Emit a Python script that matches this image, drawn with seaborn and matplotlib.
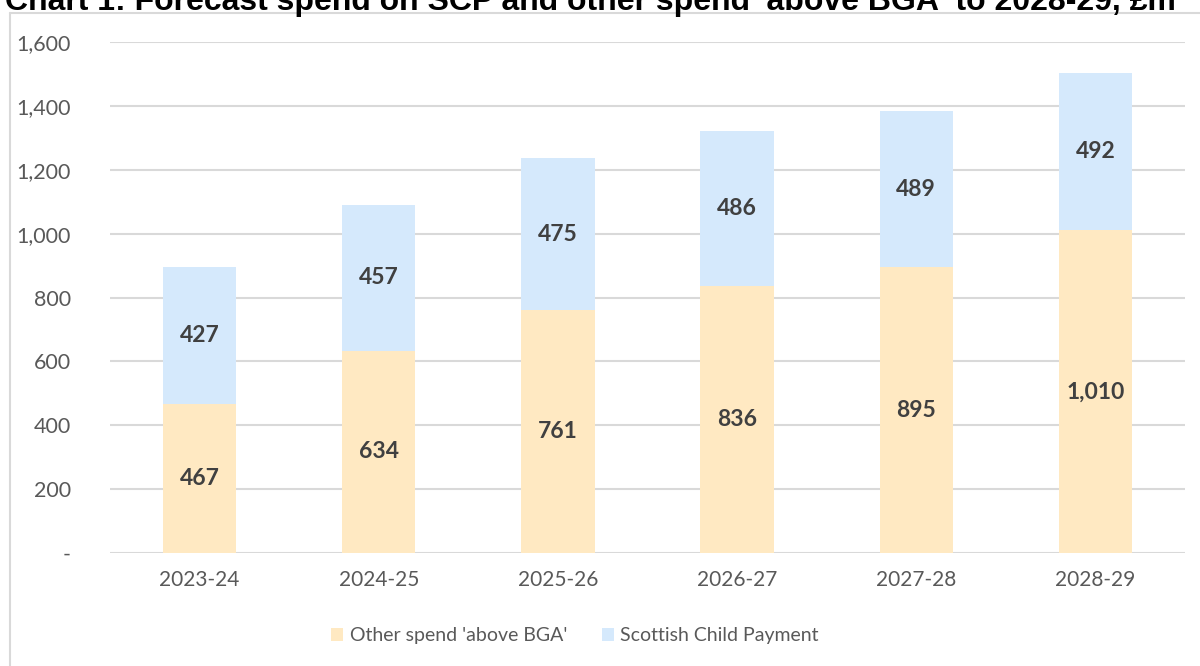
import matplotlib
matplotlib.use("Agg")
import matplotlib.pyplot as plt
from matplotlib.patches import Patch
from matplotlib.lines import Line2D
from matplotlib.ticker import FuncFormatter
import seaborn as sns
import pandas as pd

# Forecast spend, £m
years = ["2023-24", "2024-25", "2025-26", "2026-27", "2027-28", "2028-29"]
other_spend = [467, 634, 761, 836, 895, 1010]
scp_spend = [427, 457, 475, 486, 489, 492]

labels = ["Other spend 'above BGA'", "Scottish Child Payment"]
title = "Chart 1: Forecast spend on SCP and other spend 'above BGA' to 2028-29, £m"

col_other = "#FFE9C2"
col_scp = "#D5E9FC"
txt_grey = "#595959"
val_grey = "#404040"
grid_grey = "#D9D9D9"

df = pd.DataFrame({"year": years, "other": other_spend, "scp": scp_spend})
df["total"] = df["other"] + df["scp"]

sns.set_theme(style="white")
plt.rcParams["font.family"] = ["Lato", "DejaVu Sans"]

fig = plt.figure(figsize=(12, 6.66), dpi=100)
ax = fig.add_axes([110 / 1200, 113 / 666, (1185 - 110) / 1200, (553 - 42) / 666])

# Stacked bars: full total in blue, other spend drawn over it from zero
sns.barplot(data=df, x="year", y="total", color=col_scp, width=0.41,
            saturation=1, linewidth=0, edgecolor="none", ax=ax, zorder=2)
sns.barplot(data=df, x="year", y="other", color=col_other, width=0.41,
            saturation=1, linewidth=0, edgecolor="none", ax=ax, zorder=3)

for i, (o, s) in enumerate(zip(df["other"], df["scp"])):
    ax.text(i, o / 2, f"{o:,}", ha="center", va="center", fontsize=16.5,
            fontweight="bold", color=val_grey, zorder=4)
    ax.text(i, o + s / 2, f"{s:,}", ha="center", va="center", fontsize=16.5,
            fontweight="bold", color=val_grey, zorder=4)

ax.set_ylim(0, 1600)
ax.set_xlim(-0.5, len(years) - 0.5)
ax.set_yticks(range(0, 1601, 200))
ax.yaxis.set_major_formatter(FuncFormatter(lambda v, p: "-" if v == 0 else f"{v:,.0f}"))
ax.grid(axis="y", color=grid_grey, linewidth=1.5, zorder=0)
ax.grid(axis="x", visible=False)
ax.set_axisbelow(True)
for sp in ax.spines.values():
    sp.set_visible(False)
ax.set_xlabel("")
ax.set_ylabel("")
ax.tick_params(axis="y", length=0, pad=28, labelsize=15.5, labelcolor=txt_grey)
ax.tick_params(axis="x", length=0, pad=12, labelsize=15, labelcolor=txt_grey)

handles = [Patch(facecolor=col_other, edgecolor="none"),
           Patch(facecolor=col_scp, edgecolor="none")]
fig.legend(handles, labels, loc="center", bbox_to_anchor=(575 / 1200, 1 - 636 / 666),
           ncol=2, frameon=False, fontsize=14, labelcolor=txt_grey,
           handlelength=0.6, handleheight=0.6, handletextpad=0.35,
           columnspacing=1.8)

# Chart frame
fig.add_artist(Line2D([10 / 1200, 10 / 1200], [0, 1 - 13 / 666],
                      color=grid_grey, linewidth=1.5, transform=fig.transFigure))
fig.add_artist(Line2D([10 / 1200, 1], [1 - 13 / 666, 1 - 13 / 666],
                      color=grid_grey, linewidth=1.5, transform=fig.transFigure))

fig.text(5 / 1200, 1 - 10 / 666, title, ha="left", va="baseline", fontsize=23.0,
         fontweight="bold", family=["Liberation Sans", "DejaVu Sans"], color="#000000")

fig.savefig("out.png", dpi=100, facecolor="white")
